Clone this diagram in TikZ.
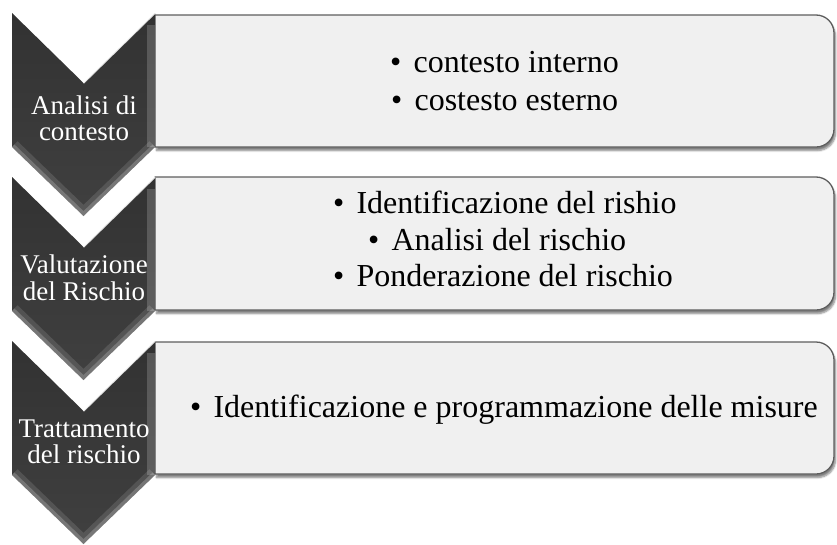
\documentclass[tikz,border=0pt]{standalone}
\usepackage{fontspec}
\setmainfont{Liberation Serif}
\usetikzlibrary{shadows.blur}
\definecolor{boxfill}{HTML}{F0F0F0}
\definecolor{boxline}{HTML}{5E5E5E}
\definecolor{chevtop}{HTML}{323232}
\definecolor{chevbot}{HTML}{404040}
\newcommand{\chevoutline}[1]{(12,#1) -- (83.5,#1+70) -- (155,#1) -- (155,#1+134) -- (83.5,#1+203) -- (12,#1+134) -- cycle}
\newcommand{\boxoutline}[2]{(155,#1) -- (816,#1) .. controls (826,#1) and (834,#1+8) .. (834,#1+18) -- (834,#2-18) .. controls (834,#2-8) and (826,#2) .. (816,#2) -- (155,#2) -- cycle}
\newcommand{\drawchevron}[1]{%
  \begin{scope}
    \clip \chevoutline{#1};
    \shade[top color=chevtop, bottom color=chevbot] \chevoutline{#1};
    \draw[white, opacity=.12, line width=16pt, line join=round] (12,#1+134) -- (83.5,#1+203) -- (155,#1+134);
    \draw[white, opacity=.2, line width=7pt, line join=round] (12,#1+134) -- (83.5,#1+203) -- (155,#1+134);
    \fill[white, opacity=.18] (147,#1+12) rectangle (155,#1+134);
  \end{scope}
  \draw[white, opacity=.85, line width=1.6pt] (83.5,#1+70) -- (155,#1);
}
\tikzset{
  boxshape/.style={fill=boxfill, draw=boxline, line width=1.3pt,
    blur shadow={shadow xshift=1.5pt, shadow yshift=-3.5pt, shadow blur steps=6, shadow opacity=50}},
  chevtext/.style={text=white, font=\fontsize{27}{29}\selectfont, anchor=base, inner sep=0pt},
  boxtext/.style={text=black, font=\fontsize{32}{36}\selectfont, anchor=base west, inner sep=0pt},
}
\newcommand{\bul}{•\hspace{0.38em}}
\begin{document}
\begin{tikzpicture}[x=1pt,y=-1pt]
  \useasboundingbox (0,0) rectangle (837,544);
  % boxes
  \path[boxshape] \boxoutline{15}{147};
  \path[boxshape] \boxoutline{177}{310};
  \path[boxshape] \boxoutline{342}{474};
  % chevrons
  \drawchevron{13}
  \drawchevron{177}
  \drawchevron{341}
  % chevron labels
  \node[chevtext] (c1a) at (84,114) {Analisi di};
  \node[chevtext] (c1b) at (84,140) {contesto};
  \node[chevtext] (c2a) at (84,273) {Valutazione};
  \node[chevtext] (c2b) at (84,300) {del Rischio};
  \node[chevtext] (c3a) at (84,437) {Trattamento};
  \node[chevtext] (c3b) at (84,463) {del rischio};
  % box texts
  \node[boxtext] (b1a) at (390,72) {\bul contesto interno};
  \node[boxtext] (b1b) at (391,110) {\bul costesto esterno};
  \node[boxtext] (b2a) at (333,213) {\bul Identificazione del rishio};
  \node[boxtext] (b2b) at (368,250) {\bul Analisi del rischio};
  \node[boxtext] (b2c) at (333,286) {\bul Ponderazione del rischio};
  \node[boxtext] (b3a) at (190,417) {\bul Identificazione e programmazione delle misure};
\end{tikzpicture}
\end{document}
